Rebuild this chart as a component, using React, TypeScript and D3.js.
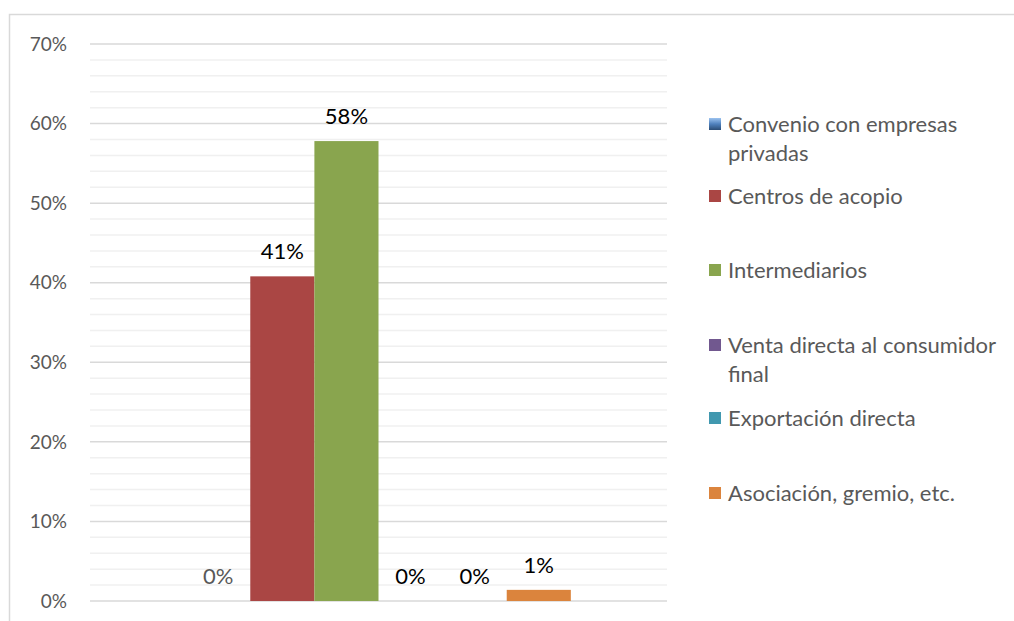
import React from 'react';
import { scaleLinear, scaleBand, range } from 'd3';

// one category, six series
const seriesNames = [
  ['Convenio con empresas', 'privadas'],
  ['Centros de acopio'],
  ['Intermediarios'],
  ['Venta directa al consumidor', 'final'],
  ['Exportación directa'],
  ['Asociación, gremio, etc.'],
];
const seriesValues = [0, 40.8, 57.8, 0, 0, 1.4];
const valueLabels = ['0%', '41%', '58%', '0%', '0%', '1%'];
const seriesColors = ['#4F81BD', '#AA4644', '#89A54E', '#71588F', '#4198AF', '#DB843D'];
const tickValues = [0, 10, 20, 30, 40, 50, 60, 70];

const W = 1014;
const H = 621;
const plot = { left: 90, right: 667, top: 44, bottom: 601 };
const font = 'Lato, "Open Sans", sans-serif';

export default function App() {
  const y = scaleLinear().domain([0, 70]).range([plot.bottom, plot.top]);
  // 150% gap width: group is 6 bars, gaps of 1.5 bars each side
  const groupW = (plot.right - plot.left) * 6 / 9;
  const x = scaleBand<number>()
    .domain(range(seriesValues.length))
    .range([(plot.left + plot.right) / 2 - groupW / 2, (plot.left + plot.right) / 2 + groupW / 2]);

  const minor = range(0, 71, 2).filter(v => v % 10 !== 0);
  const legendY = [124, 196, 270, 345, 418, 493];

  return (
    <div style={{ position: 'absolute', left: 0, top: 0 }}>
      <svg width={W} height={H} style={{ display: 'block' }}>
        <defs>
          <linearGradient id="blueMark" x1="0" y1="0" x2="0" y2="1">
            <stop offset="0" stopColor="#9CC3F0" />
            <stop offset="0.5" stopColor="#4F81BD" />
            <stop offset="1" stopColor="#2C4D75" />
          </linearGradient>
        </defs>
        <rect x={0} y={0} width={W} height={H} fill="#fff" />
        {/* chart border */}
        <rect x={9.5} y={14.5} width={W + 10} height={H + 10} fill="none" stroke="#D9D9D9" strokeWidth={1.5} />

        {/* gridlines */}
        {minor.map(v => (
          <line key={'m' + v} x1={plot.left} x2={plot.right} y1={y(v)} y2={y(v)} stroke="#F0F0F0" strokeWidth={1.5} />
        ))}
        {tickValues.map(v => (
          <line key={'g' + v} x1={plot.left} x2={plot.right} y1={y(v)} y2={y(v)} stroke="#D9D9D9" strokeWidth={1.5} />
        ))}

        {/* y axis labels */}
        {tickValues.map(v => (
          <text key={'t' + v} x={67} y={y(v)} dy="0.35em" textAnchor="end" fontFamily={font} fontSize={19} fill="#595959">
            {v}%
          </text>
        ))}

        {/* bars */}
        {seriesValues.map((v, i) => (
          <rect key={'b' + i} x={x(i)} y={y(v)} width={x.bandwidth()} height={plot.bottom - y(v)} fill={seriesColors[i]} />
        ))}

        {/* value labels */}
        {seriesValues.map((v, i) => (
          <text key={'l' + i} x={(x(i) as number) + x.bandwidth() / 2} y={y(v) - 17} textAnchor="middle"
            fontFamily={font} fontSize={22} fill={i === 0 ? '#595959' : '#000'}>
            {valueLabels[i]}
          </text>
        ))}

        {/* legend */}
        {seriesNames.map((lines, i) => (
          <g key={'lg' + i} transform={`translate(709,${legendY[i]})`}>
            <rect x={0} y={-6} width={12} height={12} fill={i === 0 ? 'url(#blueMark)' : seriesColors[i]} />
            {lines.map((t, j) => (
              <text key={j} x={19} y={j * 29} dy="0.35em" fontFamily={font} fontSize={22} fill="#595959">{t}</text>
            ))}
          </g>
        ))}
      </svg>
    </div>
  );
}
